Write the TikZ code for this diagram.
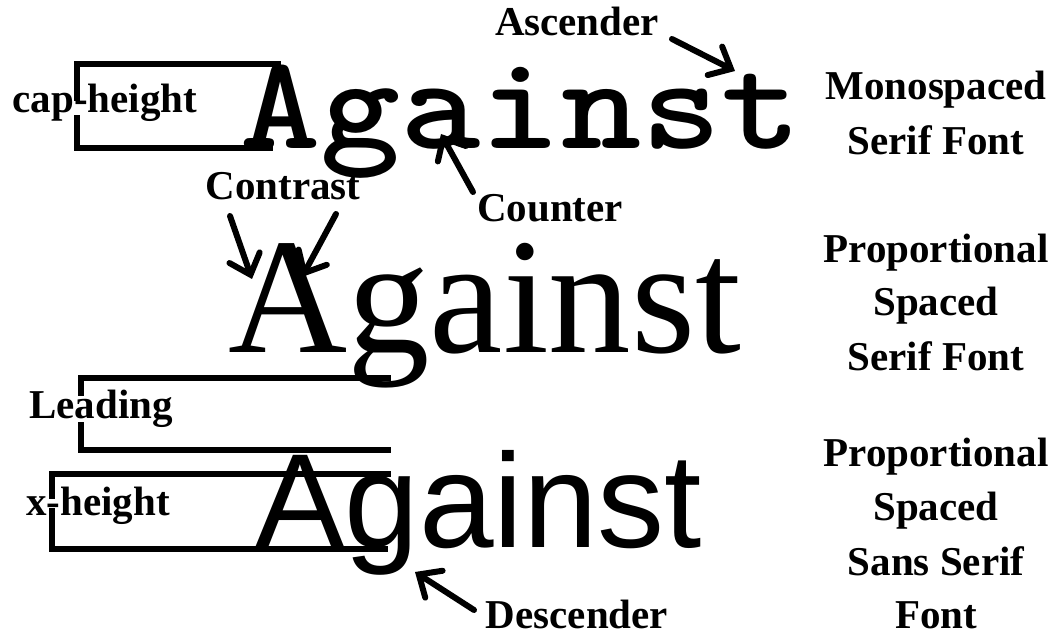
\documentclass[tikz,border=0pt]{standalone}
\usepackage{fontspec}
\usepackage{graphicx}
\setmainfont{Liberation Serif}
\newfontfamily\sansfnt{Liberation Sans}
\usetikzlibrary{arrows.meta}
\begin{document}
\begin{tikzpicture}[x=1pt,y=-1pt,
  lbl/.style={inner sep=0pt, anchor=base, font=\fontsize{41}{41}\selectfont\bfseries},
  bigmono/.style={inner sep=0pt, anchor=base west, font=\fontsize{134}{134}\selectfont\ttfamily\bfseries},
  bigserif/.style={inner sep=0pt, anchor=base west, font=\fontsize{165}{165}\selectfont},
  bigsans/.style={inner sep=0pt, anchor=base west, font=\fontsize{134}{134}\selectfont\sansfnt},
  bracket/.style={line width=6pt, line cap=rect},
  pointer/.style={line width=6pt, line cap=round, -{Straight Barb[length=18pt,width=32pt,line cap=round]}}
]
\useasboundingbox (0,0) rectangle (1057,636);
% big words
\node[bigmono]  (w1) at (240,149) {\scalebox{1.14}[1]{Against}};
\node[bigserif] (w2) at (228,352) {Against};
\node[bigsans]  (w3) at (255,547) {Against};
% left labels
\node[lbl] (cap) at (105,113) {cap-height};
\node[lbl] (lead) at (101,418) {Leading};
\node[lbl] (xh) at (98,515) {x-height};
\node[lbl] (asc) at (577,36) {Ascender};
\node[lbl] (cnt) at (550,222) {Counter};
\node[lbl] (con) at (283,200) {Contrast};
\node[lbl] (desc) at (577,628) {Descender};
% right labels
\node[lbl] (r1a) at (936,100) {Monospaced};
\node[lbl] (r1b) at (936,155) {Serif Font};
\node[lbl] (r2a) at (936,262) {Proportional};
\node[lbl] (r2b) at (936,316) {Spaced};
\node[lbl] (r2c) at (936,370) {Serif Font};
\node[lbl] (r3a) at (936,466) {Proportional};
\node[lbl] (r3b) at (936,520) {Spaced};
\node[lbl] (r3c) at (936,575) {Sans Serif};
\node[lbl] (r3d) at (936,628) {Font};
% bracket coordinates
\coordinate (c1) at (278,64);  \coordinate (c2) at (77,64);
\coordinate (c3) at (77,98);   \coordinate (c4) at (77,118);
\coordinate (c5) at (77,148);  \coordinate (c6) at (270,148);
\draw[bracket] (c1) -- (c2) -- (c3);
\draw[bracket] (c4) -- (c5) -- (c6);
\coordinate (l1) at (388,378); \coordinate (l2) at (81,378);
\coordinate (l3) at (81,393);  \coordinate (l4) at (81,425);
\coordinate (l5) at (81,450);  \coordinate (l6) at (388,450);
\draw[bracket] (l1) -- (l2) -- (l3);
\draw[bracket] (l4) -- (l5) -- (l6);
\coordinate (x1) at (388,474); \coordinate (x2) at (52,474);
\coordinate (x3) at (52,496);  \coordinate (x4) at (52,511);
\coordinate (x5) at (52,549);  \coordinate (x6) at (385,549);
\draw[bracket] (x1) -- (x2) -- (x3);
\draw[bracket] (x4) -- (x5) -- (x6);
% arrows
\coordinate (ascS) at (672,39);  \coordinate (ascT) at (735,71);
\coordinate (cntS) at (473,192); \coordinate (cntT) at (441,134);
\coordinate (conLS) at (230,216); \coordinate (conLT) at (252,279);
\coordinate (conRS) at (336,214); \coordinate (conRT) at (302,277);
\coordinate (desS) at (474,610); \coordinate (desT) at (415,572);
\draw[pointer] (ascS) -- (ascT);
\draw[pointer] (cntS) -- (cntT);
\draw[pointer] (conLS) -- (conLT);
\draw[pointer] (conRS) -- (conRT);
\draw[pointer] (desS) -- (desT);
\end{tikzpicture}
\end{document}
